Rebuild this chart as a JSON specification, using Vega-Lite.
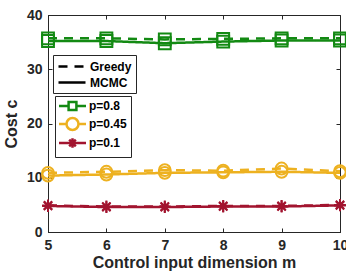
{
  "$schema": "https://vega.github.io/schema/vega-lite/v6.json",
  "width": 292,
  "height": 217,
  "autosize": "none",
  "padding": {"left": 48, "top": 15, "right": 6, "bottom": 44},
  "background": "white",
  "data": {"values": [
    {"m": 5, "cost": 35.7, "p": "p=0.8", "method": "Greedy"},
    {"m": 6, "cost": 35.7, "p": "p=0.8", "method": "Greedy"},
    {"m": 7, "cost": 35.5, "p": "p=0.8", "method": "Greedy"},
    {"m": 8, "cost": 35.6, "p": "p=0.8", "method": "Greedy"},
    {"m": 9, "cost": 35.7, "p": "p=0.8", "method": "Greedy"},
    {"m": 10, "cost": 35.7, "p": "p=0.8", "method": "Greedy"},
    {"m": 5, "cost": 35.2, "p": "p=0.8", "method": "MCMC"},
    {"m": 6, "cost": 35.2, "p": "p=0.8", "method": "MCMC"},
    {"m": 7, "cost": 34.8, "p": "p=0.8", "method": "MCMC"},
    {"m": 8, "cost": 35.1, "p": "p=0.8", "method": "MCMC"},
    {"m": 9, "cost": 35.3, "p": "p=0.8", "method": "MCMC"},
    {"m": 10, "cost": 35.3, "p": "p=0.8", "method": "MCMC"},
    {"m": 5, "cost": 10.9, "p": "p=0.45", "method": "Greedy"},
    {"m": 6, "cost": 11.1, "p": "p=0.45", "method": "Greedy"},
    {"m": 7, "cost": 11.4, "p": "p=0.45", "method": "Greedy"},
    {"m": 8, "cost": 11.3, "p": "p=0.45", "method": "Greedy"},
    {"m": 9, "cost": 11.7, "p": "p=0.45", "method": "Greedy"},
    {"m": 10, "cost": 11.2, "p": "p=0.45", "method": "Greedy"},
    {"m": 5, "cost": 10.4, "p": "p=0.45", "method": "MCMC"},
    {"m": 6, "cost": 10.6, "p": "p=0.45", "method": "MCMC"},
    {"m": 7, "cost": 10.9, "p": "p=0.45", "method": "MCMC"},
    {"m": 8, "cost": 11.0, "p": "p=0.45", "method": "MCMC"},
    {"m": 9, "cost": 11.1, "p": "p=0.45", "method": "MCMC"},
    {"m": 10, "cost": 10.9, "p": "p=0.45", "method": "MCMC"},
    {"m": 5, "cost": 4.9, "p": "p=0.1", "method": "Greedy"},
    {"m": 6, "cost": 4.7, "p": "p=0.1", "method": "Greedy"},
    {"m": 7, "cost": 4.7, "p": "p=0.1", "method": "Greedy"},
    {"m": 8, "cost": 4.8, "p": "p=0.1", "method": "Greedy"},
    {"m": 9, "cost": 4.8, "p": "p=0.1", "method": "Greedy"},
    {"m": 10, "cost": 5.0, "p": "p=0.1", "method": "Greedy"},
    {"m": 5, "cost": 4.8, "p": "p=0.1", "method": "MCMC"},
    {"m": 6, "cost": 4.6, "p": "p=0.1", "method": "MCMC"},
    {"m": 7, "cost": 4.6, "p": "p=0.1", "method": "MCMC"},
    {"m": 8, "cost": 4.7, "p": "p=0.1", "method": "MCMC"},
    {"m": 9, "cost": 4.7, "p": "p=0.1", "method": "MCMC"},
    {"m": 10, "cost": 4.9, "p": "p=0.1", "method": "MCMC"}
  ]},
  "config": {
    "view": {"stroke": "#262626", "strokeWidth": 1},
    "font": "Liberation Sans",
    "axis": {
      "labelFont": "Liberation Sans", "labelFontWeight": "bold", "labelFontSize": 14, "labelColor": "#262626",
      "titleFont": "Liberation Sans", "titleFontWeight": "bold", "titleFontSize": 16, "titleColor": "#262626",
      "domainColor": "#262626", "tickColor": "#262626", "grid": false, "tickSize": -4, "labelFlush": false
    },
    "legend": {
      "labelFont": "Liberation Sans", "labelFontWeight": "bold", "labelFontSize": 12, "labelColor": "black",
      "strokeColor": "#262626", "fillColor": "white", "padding": 4, "rowPadding": 3, "symbolOpacity": 1
    }
  },
  "layer": [
    {
      "mark": {"type": "line", "strokeWidth": 2.5},
      "encoding": {
        "x": {"field": "m", "type": "quantitative", "scale": {"domain": [5, 10]},
              "axis": {"title": "Control input dimension m", "values": [5, 6, 7, 8, 9, 10], "labelPadding": 10, "titlePadding": 2}},
        "y": {"field": "cost", "type": "quantitative", "scale": {"domain": [0, 40]},
              "axis": {"title": "Cost c", "values": [0, 10, 20, 30, 40], "labelPadding": 10, "titlePadding": 7}},
        "color": {"field": "p", "type": "nominal",
                  "scale": {"domain": ["p=0.8", "p=0.45", "p=0.1"], "range": ["#138a13", "#EDB120", "#A2142F"]},
                  "legend": null},
        "strokeDash": {"field": "method", "type": "nominal",
                       "scale": {"domain": ["Greedy", "MCMC"], "range": [[9, 7], [1, 0]]},
                       "legend": {"title": null, "orient": "none", "legendX": 5, "legendY": 40,
                                  "symbolType": "M-1,0H3.5", "symbolSize": 144, "symbolStrokeWidth": 2.5,
                                  "symbolStrokeColor": "black", "labelOffset": 18, "rowPadding": 2}},
        "detail": {"field": "method"}
      }
    },
    {
      "mark": {"type": "point", "filled": false, "strokeWidth": 2, "size": 140, "opacity": 1},
      "encoding": {
        "x": {"field": "m", "type": "quantitative", "axis": null},
        "y": {"field": "cost", "type": "quantitative", "axis": null},
        "color": {"field": "p", "type": "nominal", "legend": null},
        "shape": {"field": "p", "type": "nominal",
                  "scale": {"domain": ["p=0.8", "p=0.45", "p=0.1"],
                            "range": ["square", "circle", "M-1,0H1M0,-1V1M-0.7,-0.7L0.7,0.7M-0.7,0.7L0.7,-0.7"]},
                  "legend": null}
      }
    },
    {
      "mark": {"type": "point", "opacity": 0, "filled": false, "strokeWidth": 2.5},
      "encoding": {
        "x": {"field": "m", "type": "quantitative",
              "axis": {"orient": "top", "title": null, "labels": false, "domain": false, "values": [5, 6, 7, 8, 9, 10]}},
        "y": {"field": "cost", "type": "quantitative",
              "axis": {"orient": "right", "title": null, "labels": false, "domain": false, "values": [0, 10, 20, 30, 40]}},
        "color": {"field": "p", "type": "nominal",
                  "legend": {"title": null, "orient": "none", "legendX": 7, "legendY": 81,
                             "symbolSize": 36, "symbolStrokeWidth": 2.5, "labelOffset": 18, "symbolOpacity": 1, "rowPadding": -2}},
        "shape": {"field": "p", "type": "nominal",
                  "scale": {"domain": ["p=0.8", "p=0.45", "p=0.1"],
                            "range": ["M-2,0H1.2M3.8,0H7M1.2,-1.3H3.8V1.3H1.2Z", "M-2,0H0.5M4.5,0H7M4.5,0C4.5,1.104 3.604,2 2.5,2C1.396,2 0.5,1.104 0.5,0C0.5,-1.104 1.396,-2 2.5,-2C3.604,-2 4.5,-1.104 4.5,0Z", "M-2,0H7M2.5,-1.6V1.6M1.4,-1.1L3.6,1.1M1.4,1.1L3.6,-1.1"]},
                  "legend": {"title": null, "orient": "none", "legendX": 7, "legendY": 81,
                             "symbolSize": 36, "symbolStrokeWidth": 2.5, "labelOffset": 18, "symbolOpacity": 1, "rowPadding": -2}}
      }
    }
  ],
  "resolve": {"axis": {"x": "independent", "y": "independent"}, "legend": {"color": "independent", "shape": "independent"}, "scale": {"shape": "independent"}}
}
